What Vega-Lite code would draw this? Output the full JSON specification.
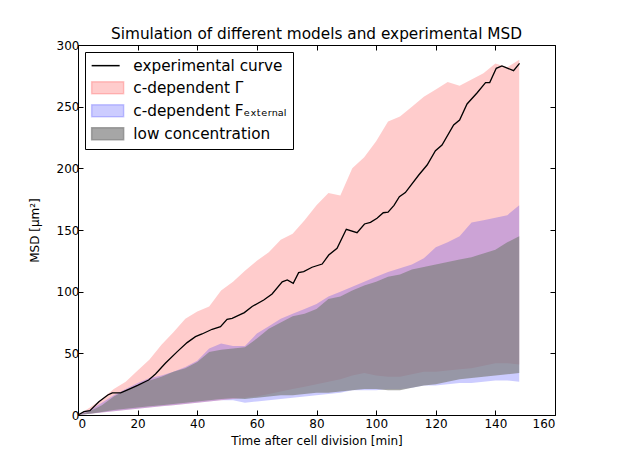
{
  "$schema": "https://vega.github.io/schema/vega-lite/v6.json",
  "autosize": {"type": "none"},
  "padding": {"left": 78, "top": 45, "right": 62, "bottom": 47},
  "width": 477,
  "height": 370,
  "background": "white",
  "title": {
    "text": "Simulation of different models and experimental MSD",
    "fontSize": 15.3,
    "fontWeight": "normal",
    "font": "DejaVu Sans",
    "color": "black",
    "offset": -3
  },
  "datasets": {
    "bands": [
      {"t": 0, "gamma_lo": 0, "gamma_hi": 0, "fext_lo": 0, "fext_hi": 0, "low_lo": 0, "low_hi": 0},
      {"t": 4, "gamma_lo": 1, "gamma_hi": 6, "fext_lo": 1, "fext_hi": 4, "low_lo": 1, "low_hi": 3},
      {"t": 8, "gamma_lo": 2, "gamma_hi": 13, "fext_lo": 2, "fext_hi": 10, "low_lo": 2.5, "low_hi": 8},
      {"t": 12, "gamma_lo": 3, "gamma_hi": 21, "fext_lo": 3, "fext_hi": 16, "low_lo": 4, "low_hi": 15},
      {"t": 16, "gamma_lo": 4, "gamma_hi": 27, "fext_lo": 4, "fext_hi": 21, "low_lo": 5, "low_hi": 20},
      {"t": 20, "gamma_lo": 5, "gamma_hi": 36, "fext_lo": 5, "fext_hi": 26, "low_lo": 6, "low_hi": 24},
      {"t": 24, "gamma_lo": 6, "gamma_hi": 45, "fext_lo": 6, "fext_hi": 30, "low_lo": 7, "low_hi": 28},
      {"t": 28, "gamma_lo": 7, "gamma_hi": 57, "fext_lo": 7, "fext_hi": 32, "low_lo": 8, "low_hi": 31},
      {"t": 32, "gamma_lo": 8, "gamma_hi": 67, "fext_lo": 8, "fext_hi": 35, "low_lo": 9, "low_hi": 35},
      {"t": 36, "gamma_lo": 9, "gamma_hi": 78, "fext_lo": 9, "fext_hi": 39, "low_lo": 10, "low_hi": 38},
      {"t": 40, "gamma_lo": 10, "gamma_hi": 84, "fext_lo": 10, "fext_hi": 44, "low_lo": 11, "low_hi": 43},
      {"t": 44, "gamma_lo": 11, "gamma_hi": 88, "fext_lo": 11, "fext_hi": 54, "low_lo": 12, "low_hi": 51},
      {"t": 48, "gamma_lo": 12, "gamma_hi": 101, "fext_lo": 12, "fext_hi": 58, "low_lo": 13, "low_hi": 53},
      {"t": 52, "gamma_lo": 13, "gamma_hi": 108, "fext_lo": 12, "fext_hi": 56, "low_lo": 13.5, "low_hi": 54},
      {"t": 56, "gamma_lo": 14, "gamma_hi": 117, "fext_lo": 10, "fext_hi": 56, "low_lo": 13, "low_hi": 55},
      {"t": 60, "gamma_lo": 15, "gamma_hi": 125, "fext_lo": 11, "fext_hi": 66, "low_lo": 14, "low_hi": 62},
      {"t": 64, "gamma_lo": 17, "gamma_hi": 132, "fext_lo": 12, "fext_hi": 72, "low_lo": 15, "low_hi": 70},
      {"t": 68, "gamma_lo": 19, "gamma_hi": 142, "fext_lo": 13, "fext_hi": 78, "low_lo": 16, "low_hi": 75},
      {"t": 72, "gamma_lo": 21, "gamma_hi": 147, "fext_lo": 14, "fext_hi": 82, "low_lo": 16, "low_hi": 80},
      {"t": 76, "gamma_lo": 23, "gamma_hi": 158, "fext_lo": 15, "fext_hi": 86, "low_lo": 17, "low_hi": 82},
      {"t": 80, "gamma_lo": 25, "gamma_hi": 170, "fext_lo": 16, "fext_hi": 90, "low_lo": 18, "low_hi": 86},
      {"t": 84, "gamma_lo": 27, "gamma_hi": 180, "fext_lo": 17, "fext_hi": 96, "low_lo": 18, "low_hi": 94},
      {"t": 88, "gamma_lo": 29, "gamma_hi": 178, "fext_lo": 18, "fext_hi": 100, "low_lo": 19, "low_hi": 96},
      {"t": 92, "gamma_lo": 32, "gamma_hi": 200, "fext_lo": 20, "fext_hi": 104, "low_lo": 20, "low_hi": 101},
      {"t": 96, "gamma_lo": 34, "gamma_hi": 209, "fext_lo": 20, "fext_hi": 108, "low_lo": 21, "low_hi": 105},
      {"t": 100, "gamma_lo": 32, "gamma_hi": 222, "fext_lo": 20, "fext_hi": 112, "low_lo": 21, "low_hi": 108},
      {"t": 104, "gamma_lo": 31, "gamma_hi": 238, "fext_lo": 21, "fext_hi": 116, "low_lo": 20, "low_hi": 112},
      {"t": 108, "gamma_lo": 31, "gamma_hi": 242, "fext_lo": 21, "fext_hi": 119, "low_lo": 20, "low_hi": 114},
      {"t": 112, "gamma_lo": 33, "gamma_hi": 250, "fext_lo": 22, "fext_hi": 122, "low_lo": 22, "low_hi": 118},
      {"t": 116, "gamma_lo": 35, "gamma_hi": 258, "fext_lo": 24, "fext_hi": 127, "low_lo": 24, "low_hi": 120},
      {"t": 120, "gamma_lo": 35, "gamma_hi": 264, "fext_lo": 24, "fext_hi": 136, "low_lo": 25, "low_hi": 122},
      {"t": 124, "gamma_lo": 36, "gamma_hi": 270, "fext_lo": 25, "fext_hi": 140, "low_lo": 27, "low_hi": 124},
      {"t": 128, "gamma_lo": 37, "gamma_hi": 267, "fext_lo": 26, "fext_hi": 145, "low_lo": 29, "low_hi": 126},
      {"t": 132, "gamma_lo": 38, "gamma_hi": 272, "fext_lo": 26, "fext_hi": 156, "low_lo": 30, "low_hi": 128},
      {"t": 136, "gamma_lo": 40, "gamma_hi": 277, "fext_lo": 27, "fext_hi": 158, "low_lo": 31, "low_hi": 131},
      {"t": 140, "gamma_lo": 42, "gamma_hi": 285, "fext_lo": 28, "fext_hi": 160, "low_lo": 32, "low_hi": 134},
      {"t": 144, "gamma_lo": 42, "gamma_hi": 282, "fext_lo": 28, "fext_hi": 162, "low_lo": 33, "low_hi": 140},
      {"t": 148, "gamma_lo": 41, "gamma_hi": 288, "fext_lo": 27, "fext_hi": 170, "low_lo": 34, "low_hi": 145}
    ],
    "curve": [
      {"t": 0, "msd": 0},
      {"t": 2, "msd": 2.7},
      {"t": 4, "msd": 3.5},
      {"t": 7, "msd": 10.8},
      {"t": 10, "msd": 16.2},
      {"t": 11.5, "msd": 18},
      {"t": 14.3, "msd": 18},
      {"t": 17, "msd": 20.8},
      {"t": 20, "msd": 24},
      {"t": 23.7, "msd": 28.4},
      {"t": 26, "msd": 33.2},
      {"t": 29.3, "msd": 41.9},
      {"t": 33.3, "msd": 51.4},
      {"t": 36.6, "msd": 58.7},
      {"t": 39.4, "msd": 63.5},
      {"t": 41.6, "msd": 65.7},
      {"t": 45, "msd": 69.5},
      {"t": 47.8, "msd": 71.6},
      {"t": 50, "msd": 77.6},
      {"t": 51.7, "msd": 78.4},
      {"t": 55.8, "msd": 83},
      {"t": 58.4, "msd": 88},
      {"t": 62.3, "msd": 93.2},
      {"t": 65.1, "msd": 98.1},
      {"t": 68.5, "msd": 108},
      {"t": 70.2, "msd": 109.5},
      {"t": 72.2, "msd": 106.8},
      {"t": 74, "msd": 115.4},
      {"t": 75.7, "msd": 116.2},
      {"t": 78.5, "msd": 119.8},
      {"t": 81.9, "msd": 122.4},
      {"t": 84.1, "msd": 129.7},
      {"t": 86.9, "msd": 135.1},
      {"t": 90, "msd": 150.6},
      {"t": 93.6, "msd": 147.8},
      {"t": 96.1, "msd": 154.9},
      {"t": 98.1, "msd": 156.2},
      {"t": 100.3, "msd": 159.5},
      {"t": 102.4, "msd": 164},
      {"t": 104, "msd": 164.5},
      {"t": 106, "msd": 170},
      {"t": 107.8, "msd": 177},
      {"t": 109.8, "msd": 180.3},
      {"t": 114.3, "msd": 194.6},
      {"t": 117.1, "msd": 202.7},
      {"t": 119.9, "msd": 214.3},
      {"t": 122.1, "msd": 218.9},
      {"t": 126, "msd": 235.1},
      {"t": 128, "msd": 239.2},
      {"t": 130.5, "msd": 252.2},
      {"t": 133.9, "msd": 261.3},
      {"t": 136.7, "msd": 269.5},
      {"t": 138.1, "msd": 269.5},
      {"t": 140.3, "msd": 281.1},
      {"t": 142.2, "msd": 283},
      {"t": 146.1, "msd": 279.2},
      {"t": 148.1, "msd": 285.1}
    ]
  },
  "layer": [
    {
      "data": {"name": "bands"},
      "mark": {"type": "area"},
      "encoding": {
        "x": {
          "field": "t",
          "type": "quantitative",
          "scale": {"domain": [0, 160], "nice": false},
          "axis": {"title": "Time after cell division [min]", "values": [0, 20, 40, 60, 80, 100, 120, 140, 160]}
        },
        "y": {
          "field": "gamma_lo",
          "type": "quantitative",
          "scale": {"domain": [0, 300], "nice": false},
          "axis": {"title": "MSD [μm²]", "values": [0, 50, 100, 150, 200, 250, 300]}
        },
        "y2": {"field": "gamma_hi"},
        "color": {"datum": "c-dependent Γ"}
      }
    },
    {
      "data": {"name": "bands"},
      "mark": {"type": "area"},
      "encoding": {
        "x": {"field": "t", "type": "quantitative", "axis": null},
        "y": {"field": "fext_lo", "type": "quantitative", "axis": null},
        "y2": {"field": "fext_hi"},
        "color": {"datum": "c-dependent Fₑₓₜₑᵣₙₐₗ"}
      }
    },
    {
      "data": {"name": "bands"},
      "mark": {"type": "area"},
      "encoding": {
        "x": {"field": "t", "type": "quantitative", "axis": null},
        "y": {"field": "low_lo", "type": "quantitative", "axis": null},
        "y2": {"field": "low_hi"},
        "color": {"datum": "low concentration"}
      }
    },
    {
      "data": {"name": "curve"},
      "mark": {"type": "line", "strokeWidth": 1.3},
      "encoding": {
        "x": {
          "field": "t",
          "type": "quantitative",
          "axis": {"orient": "top", "labels": false, "title": null, "domain": false, "values": [0, 20, 40, 60, 80, 100, 120, 140, 160]}
        },
        "y": {
          "field": "msd",
          "type": "quantitative",
          "axis": {"orient": "right", "labels": false, "title": null, "domain": false, "values": [0, 50, 100, 150, 200, 250, 300]}
        },
        "color": {
          "datum": "experimental curve",
          "scale": {
            "domain": ["experimental curve", "c-dependent Γ", "c-dependent Fₑₓₜₑᵣₙₐₗ", "low concentration"],
            "range": ["black", "rgba(255,0,0,0.2)", "rgba(0,0,255,0.2)", "rgba(128,128,128,0.7)"]
          },
          "legend": {
            "title": null,
            "orient": "top-left",
            "offset": 7,
            "padding": 6,
            "strokeColor": "black",
            "fillColor": "white",
            "labelFontSize": 15.3,
            "labelFont": "DejaVu Sans",
            "labelColor": "black",
            "labelOffset": 27,
            "symbolSize": 144,
            "rowPadding": 4,
            "encode": {
              "symbols": {
                "update": {
                  "shape": {"signal": "datum.value === 'experimental curve' ? 'M-1.167,0H3.5' : 'M-1.167,-1H4.167V1H-1.167Z'"},
                  "stroke": {"signal": "datum.value === 'experimental curve' ? 'black' : 'transparent'"},
                  "strokeWidth": {"value": 1.5},
                  "opacity": {"value": 1}
                }
              }
            }
          }
        }
      }
    }
  ],
  "resolve": {"axis": {"x": "independent", "y": "independent"}},
  "config": {
    "font": "DejaVu Sans",
    "view": {"stroke": "black", "strokeWidth": 1},
    "axis": {
      "grid": false,
      "domain": false,
      "tickColor": "black",
      "tickSize": -5,
      "labelFontSize": 12,
      "labelColor": "black",
      "labelFont": "DejaVu Sans",
      "titleFontSize": 12,
      "titleFontWeight": "normal",
      "titleColor": "black",
      "titleFont": "DejaVu Sans",
      "labelPadding": 4
    },
    "axisX": {"titlePadding": 6, "labelPadding": 8},
    "axisY": {"titlePadding": 15}
  }
}
